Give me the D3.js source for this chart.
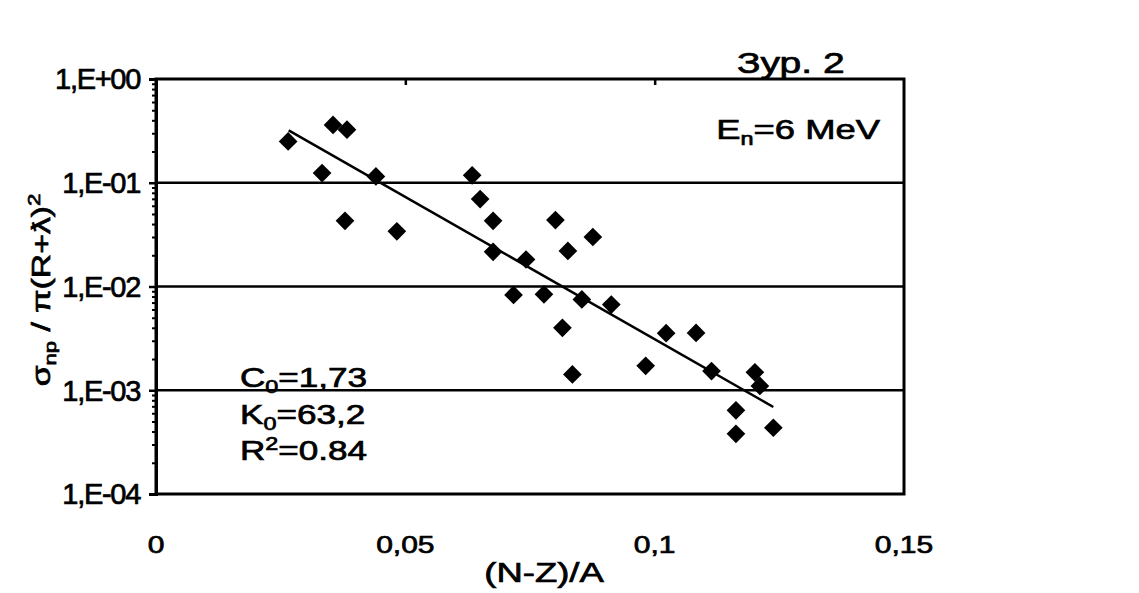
<!DOCTYPE html>
<html lang="mn">
<head>
    <meta charset="UTF-8">
    <title>Зур. 2</title>
    <script src="https://cdn.jsdelivr.net/npm/d3@7"></script>
    <style>
        body {
            margin: 0;
            background: #fff;
        }

        svg text {
            font-family: Arial, "Liberation Sans", sans-serif;
            fill: #000;
            stroke: #000;
            stroke-width: 0.7px;
        }

        .axis path,
        .axis line {
            stroke: #000;
        }
    </style>
</head>
<body>
    <svg id="chart" width="1139" height="593"></svg>
    <script>
        // values
        const xVals = [0.0265, 0.0333, 0.0355, 0.0383, 0.0379, 0.0441, 0.0483, 0.0634, 0.0650, 0.0676,
            0.0676, 0.0742, 0.0717, 0.0778, 0.0801, 0.0826, 0.0876, 0.0854, 0.0815, 0.0835,
            0.0913, 0.0982, 0.1023, 0.1083, 0.1114, 0.1201, 0.1211, 0.1163, 0.1163, 0.1238];
        const yVals = [0.250, 0.124, 0.361, 0.325, 0.043, 0.115, 0.034, 0.118, 0.0696, 0.043,
            0.0216, 0.0182, 0.0083, 0.0084, 0.0437, 0.022, 0.030, 0.0075, 0.0040, 0.00142,
            0.0067, 0.00172, 0.00355, 0.00357, 0.00153, 0.00149, 0.0011, 0.00064, 0.00038, 0.000435];

        // exponential trendline end points
        const trendX = [0.0266, 0.1238];
        const trendY = [0.32, 0.00069];

        const xTicks = [0, 0.05, 0.1, 0.15];
        const xLabels = ["0", "0,05", "0,1", "0,15"];
        const yTicks = [1e-4, 1e-3, 1e-2, 1e-1, 1];
        const yLabels = ["1,E-04", "1,E-03", "1,E-02", "1,E-01", "1,E+00"];

        const plot = { left: 156, right: 904, top: 79, bottom: 494 };
        const svg = d3.select("#chart");

        const x = d3.scaleLinear().domain([0, 0.15]).range([plot.left, plot.right]);
        const y = d3.scaleLog().domain([1e-4, 1]).range([plot.bottom, plot.top]);

        // gridlines
        svg.append("g")
            .selectAll("line")
            .data(yTicks.slice(1, 4))
            .enter().append("line")
            .attr("x1", plot.left).attr("x2", plot.right)
            .attr("y1", d => y(d)).attr("y2", d => y(d))
            .attr("stroke", "#000")
            .attr("stroke-width", 2.5);

        // frame
        svg.append("rect")
            .attr("x", plot.left).attr("y", plot.top)
            .attr("width", plot.right - plot.left).attr("height", plot.bottom - plot.top)
            .attr("fill", "none")
            .attr("stroke", "#000")
            .attr("stroke-width", 3);

        // minor log ticks on the left
        const minor = y.ticks().filter(d => yTicks.indexOf(d) < 0);
        svg.append("g")
            .attr("class", "axis")
            .attr("transform", `translate(${plot.left},0)`)
            .call(d3.axisLeft(y).tickValues(minor).tickSize(4).tickFormat(""))
            .call(g => g.select(".domain").remove())
            .selectAll("line").attr("stroke-width", 2);

        // major ticks + labels
        const yAxis = svg.append("g")
            .attr("class", "axis")
            .attr("transform", `translate(${plot.left},0)`)
            .call(d3.axisLeft(y).tickValues(yTicks).tickSize(7).tickPadding(9)
                .tickFormat((d, i) => yLabels[i]));
        yAxis.select(".domain").attr("stroke-width", 3);
        yAxis.selectAll("line").attr("stroke-width", 2.5);
        yAxis.selectAll("text")
            .attr("dy", "0.34em")
            .style("font-size", "29px")
            .style("letter-spacing", "-1.3px");

        // x ticks at the top edge, pointing in
        svg.append("g")
            .attr("class", "axis")
            .attr("transform", `translate(0,${plot.top})`)
            .call(d3.axisTop(x).tickValues(xTicks.slice(1, 3)).tickSizeInner(-6).tickSizeOuter(0).tickFormat(""))
            .call(g => g.select(".domain").remove())
            .selectAll("line").attr("stroke-width", 2.5);

        // x labels, set low
        svg.append("g")
            .selectAll("text")
            .data(xTicks)
            .enter().append("text")
            .attr("transform", d => `translate(${x(d)},553) scale(1.25,1)`)
            .attr("text-anchor", "middle")
            .style("font-size", "24px")
            .text((d, i) => xLabels[i]);

        // trendline
        const line = d3.line().x(d => x(d[0])).y(d => y(d[1]));
        svg.append("path")
            .datum(d3.zip(trendX, trendY))
            .attr("d", line)
            .attr("fill", "none")
            .attr("stroke", "#000")
            .attr("stroke-width", 2.5);

        // points
        const diamond = d3.symbol().type(d3.symbolSquare).size(175);
        svg.append("g")
            .selectAll("path")
            .data(d3.zip(xVals, yVals))
            .enter().append("path")
            .attr("d", diamond)
            .attr("transform", d => `translate(${x(d[0])},${y(d[1])}) rotate(45)`)
            .attr("fill", "#000");

        // labels
        function label(tx, ty, anchor, size, sx, rot) {
            return svg.append("text")
                .attr("transform", `translate(${tx},${ty})` + (rot ? ` rotate(${rot})` : "") + ` scale(${sx},1)`)
                .attr("text-anchor", anchor)
                .style("font-size", size + "px");
        }

        label(737, 73, "start", 30, 1.3).text("Зур. 2");

        const en = label(880, 139, "end", 28, 1.3);
        en.append("tspan").text("E");
        en.append("tspan").attr("dy", 6).style("font-size", "18px").text("n");
        en.append("tspan").attr("dy", -6).text("=6 MeV");

        const c0 = label(240, 387, "start", 27, 1.3);
        c0.append("tspan").text("C");
        c0.append("tspan").attr("dy", 6).style("font-size", "18px").text("0");
        c0.append("tspan").attr("dy", -6).text("=1,73");

        const k0 = label(240, 424, "start", 27, 1.3);
        k0.append("tspan").text("K");
        k0.append("tspan").attr("dy", 6).style("font-size", "18px").text("0");
        k0.append("tspan").attr("dy", -6).text("=63,2");

        const r2 = label(240, 460, "start", 27, 1.3);
        r2.append("tspan").text("R");
        r2.append("tspan").attr("dy", -10).style("font-size", "18px").text("2");
        r2.append("tspan").attr("dy", 10).text("=0.84");

        label(544, 582, "middle", 27, 1.35).text("(N-Z)/A");

        const yt = label(50, 290, "middle", 26, 1.3, -90);
        yt.append("tspan").text("σ");
        yt.append("tspan").attr("dy", 6).style("font-size", "17px").text("np");
        yt.append("tspan").attr("dy", -6).text(" / π(R+ƛ)");
        yt.append("tspan").attr("dy", -10).style("font-size", "17px").text("2");
    </script>
</body>
</html>
